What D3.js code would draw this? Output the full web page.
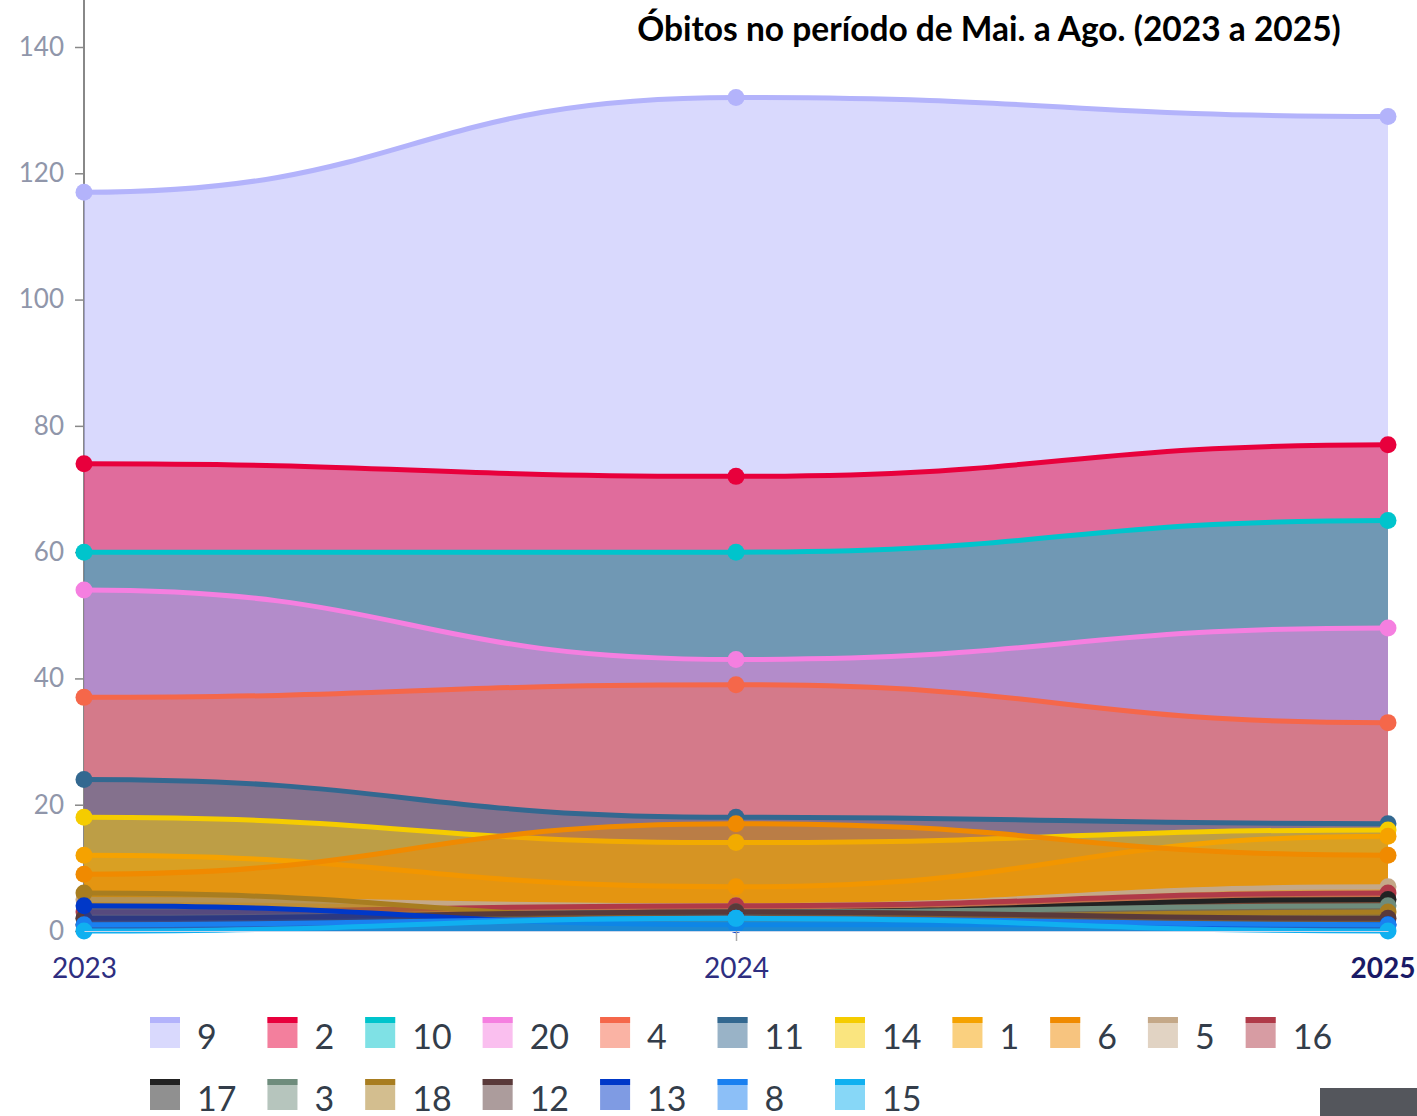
<!DOCTYPE html>
<html>
<head>
<meta charset="utf-8">
<script src="https://cdn.jsdelivr.net/npm/d3@7"></script>
<style>
  body { margin: 0; background: #fff; }
  svg { display: block; font-family: Lato, "Open Sans", sans-serif; }
</style>
</head>
<body>
<svg width="1417" height="1116"></svg>
<script>
// years on the x axis
var years = [2023, 2024, 2025];
// series names, in legend / drawing order
var names = ["9", "2", "10", "20", "4", "11", "14", "1", "6", "5", "16",
             "17", "3", "18", "12", "13", "8", "15"];
var colors = ["#b3b3fb", "#e8003c", "#00c4cc", "#f57fe0", "#f5674a", "#336890",
              "#f5cc00", "#f5a200", "#f08a00", "#c4a888", "#b03a48",
              "#222222", "#6e8c7c", "#a87d20", "#5a3a3a", "#0038c8", "#1a80f0", "#10b0f0"];
// deaths per year for each series (same order as names)
var values = [
    [117, 132, 129],
    [74, 72, 77],
    [60, 60, 65],
    [54, 43, 48],
    [37, 39, 33],
    [24, 18, 17],
    [18, 14, 16],
    [12, 7, 15],
    [9, 17, 12],
    [5, 4, 7],
    [3, 4, 6],
    [1, 3, 5],
    [2, 3, 4],
    [6, 2, 3],
    [2, 3, 2],
    [4, 1, 1],
    [1, 2, 1],
    [0, 2, 0]
];
var yTicks = [0, 20, 40, 60, 80, 100, 120, 140];
var title = "Óbitos no período de Mai. a Ago. (2023 a 2025)";

var svg = d3.select("svg");
var W = +svg.attr("width");

var scX = d3.scaleLinear().domain([2023, 2025]).range([84, 1388]);
var scY = d3.scaleLinear().domain([0, 140]).range([931, 47]);

var areaMkr = d3.area().curve(d3.curveBumpX)
    .x(function(d, i) { return scX(years[i]); })
    .y0(scY(0))
    .y1(function(d) { return scY(d); });
var lineMkr = d3.line().curve(d3.curveBumpX)
    .x(function(d, i) { return scX(years[i]); })
    .y(function(d) { return scY(d); });

// y axis
var yAx = svg.append("g").attr("transform", "translate(84,0)")
    .call(d3.axisLeft(scY).tickValues(yTicks).tickSize(9).tickPadding(11));
yAx.select(".domain").remove();
yAx.selectAll(".tick line").attr("stroke", "#888").attr("stroke-width", 1.5);
yAx.selectAll(".tick text").attr("fill", "#9096aa").attr("font-size", 26)
    .attr("font-family", "Lato");
svg.append("line").attr("x1", 84).attr("x2", 84).attr("y1", 0).attr("y2", scY(0))
    .attr("stroke", "#888").attr("stroke-width", 2);

// series, drawn in order so the first one sits at the back
var gSer = svg.append("g");
names.forEach(function(nm, k) {
    var g = gSer.append("g");
    g.append("path").attr("d", areaMkr(values[k]))
        .attr("fill", colors[k]).attr("fill-opacity", 0.5);
    g.append("path").attr("d", lineMkr(values[k]))
        .attr("fill", "none").attr("stroke", colors[k]).attr("stroke-width", 5);
    g.selectAll("circle").data(values[k]).enter().append("circle")
        .attr("cx", function(d, i) { return scX(years[i]); })
        .attr("cy", function(d) { return scY(d); })
        .attr("r", 8.5).attr("fill", colors[k]);
});

// x axis
var xAx = svg.append("g").attr("transform", "translate(0," + scY(0) + ")")
    .call(d3.axisBottom(scX).tickValues(years).tickFormat(d3.format("d")).tickSize(0).tickPadding(27));
xAx.select(".domain").attr("stroke", "#ccd6eb");
xAx.selectAll(".tick text").attr("fill", "#2e2e80").attr("font-size", 28)
    .attr("font-family", "Lato");
xAx.selectAll(".tick").filter(function(d) { return d === 2024; }).append("line")
    .attr("y1", 0).attr("y2", 10).attr("stroke", "#aaa").attr("stroke-width", 1.5);
xAx.selectAll(".tick text").filter(function(d) { return d === 2025; })
    .attr("font-weight", "bold").attr("fill", "#1a1a66")
    .attr("text-anchor", "end").attr("x", W - 2 - scX(2025));

// title
svg.append("text").attr("x", 989).attr("y", 41).attr("text-anchor", "middle")
    .attr("font-size", 33.5).attr("font-weight", "bold").attr("fill", "#000")
    .text(title);

// legend, two rows, columns aligned like highcharts
var perRow = 11, lgX = 150, rowY = [1017, 1079];
var lg = svg.append("g");
var items = names.map(function(nm, k) {
    var g = lg.append("g");
    g.append("rect").attr("x", 0).attr("y", 0).attr("width", 30).attr("height", 31)
        .attr("fill", colors[k]).attr("fill-opacity", 0.5);
    g.append("rect").attr("x", 0).attr("y", 0).attr("width", 30).attr("height", 6)
        .attr("fill", colors[k]);
    var t = g.append("text").attr("x", 47).attr("y", 32).attr("font-size", 34)
        .attr("fill", "#333d4a").text(nm);
    return { g: g, w: 47 + t.node().getComputedTextLength() + 31 };
});
var colW = [];
items.forEach(function(it, k) {
    var c = k % perRow;
    colW[c] = Math.max(colW[c] || 0, it.w);
});
items.forEach(function(it, k) {
    var c = k % perRow, r = Math.floor(k / perRow);
    var x = lgX + d3.sum(colW.slice(0, c));
    it.g.attr("transform", "translate(" + x + "," + rowY[r] + ")");
});

// grey box at the bottom right corner
svg.append("rect").attr("x", 1320).attr("y", 1088).attr("width", 97).attr("height", 28)
    .attr("fill", "#54565c");
</script>
</body>
</html>
